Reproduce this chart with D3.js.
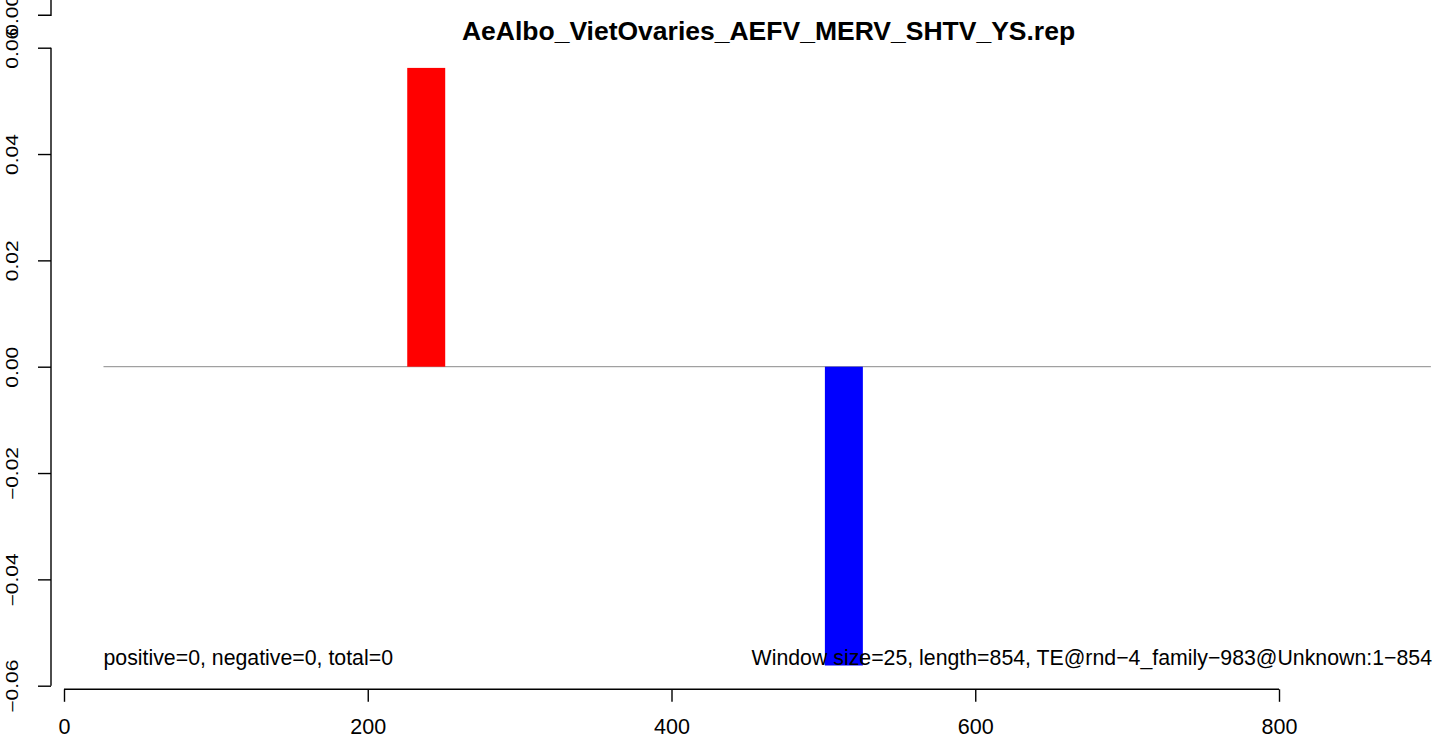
<!DOCTYPE html>
<html>
<head>
<meta charset="utf-8">
<script src="https://cdn.jsdelivr.net/npm/d3@7"></script>
<style>
html,body{margin:0;padding:0;background:#fff;}
svg{display:block;}
text{font-family:"Liberation Sans",Arial,Helvetica,sans-serif;fill:#000;}
</style>
</head>
<body>
<script>
// ---- data ----
const title = "AeAlbo_VietOvaries_AEFV_MERV_SHTV_YS.rep";
const windowSize = 25;
const barStarts = [226, 501];
const barValues = [0.0562, -0.0562];
const barColors = ["#ff0000", "#0000ff"];
const baselineRange = [26, 900];
const xTicks = [0, 200, 400, 600, 800];
const yTicks = [-0.06, -0.04, -0.02, 0.00, 0.02, 0.04, 0.06];
const leftNote = "positive=0, negative=0, total=0";
const rightNote = "Window size=25, length=854, TE@rnd\u22124_family\u2212983@Unknown:1\u2212854";
const strayTickLabel = "0.00";

// ---- layout ----
const W = 1433, H = 735;
const svg = d3.select("body").append("svg").attr("width", W).attr("height", H);

const x = d3.scaleLinear().domain([0, 800]).range([64, 1279]);
const y = d3.scaleLinear().domain([-0.06, 0.06]).range([685.7, 47.7]);
const fmtY = v => d3.format(".2f")(v).replace("-", "\u2212");
const yLabelTf = "translate(-33.5,0) scale(0.76,1) rotate(-90)";

// baseline
svg.append("line")
  .attr("x1", x(baselineRange[0])).attr("x2", x(baselineRange[1]))
  .attr("y1", y(0)).attr("y2", y(0))
  .attr("stroke", "#8a8a8a").attr("stroke-width", 1);

// bars
svg.selectAll("rect.bar").data(barStarts).enter().append("rect")
  .attr("class", "bar")
  .attr("x", d => x(d))
  .attr("width", d => x(d + windowSize) - x(d))
  .attr("y", (d, i) => y(Math.max(0, barValues[i])))
  .attr("height", (d, i) => Math.abs(y(barValues[i]) - y(0)))
  .attr("fill", (d, i) => barColors[i]);

// y axis
const yAxisX = 51;
const yAxis = d3.axisLeft(y).tickValues(yTicks).tickSize(13).tickFormat(fmtY);
const gy = svg.append("g").attr("transform", `translate(${yAxisX},0)`).call(yAxis);
gy.select(".domain").attr("d", `M0,${y(0.06)}V${y(-0.06)}`).attr("stroke-width", 1.4);
gy.selectAll(".tick line").attr("stroke-width", 1.4);
gy.selectAll(".tick text")
  .attr("x", null).attr("dy", null)
  .attr("transform", yLabelTf)
  .attr("text-anchor", "middle")
  .attr("font-size", 21)
  .attr("font-family", "Liberation Sans, Arial, Helvetica, sans-serif");

// stray axis fragment from the previous panel at the top
const stray = svg.append("g").attr("transform", `translate(${yAxisX},15.3)`);
stray.append("path").attr("d", `M0,-15.3V0H-13`)
  .attr("fill", "none").attr("stroke", "#000").attr("stroke-width", 1.4);
stray.append("text").text(strayTickLabel)
  .attr("transform", yLabelTf)
  .attr("text-anchor", "middle").attr("font-size", 21);

// x axis
const xAxis = d3.axisBottom(x).tickValues(xTicks).tickSize(12.5).tickFormat(d3.format("d"));
const gx = svg.append("g").attr("transform", "translate(0,689.3)").call(xAxis);
gx.select(".domain").attr("d", `M${x(0)},0H${x(800)}`).attr("stroke-width", 1.4);
gx.selectAll(".tick line").attr("stroke-width", 1.4);
gx.selectAll(".tick text")
  .attr("y", 45.2).attr("dy", null)
  .attr("font-size", 21.5)
  .attr("font-family", "Liberation Sans, Arial, Helvetica, sans-serif");

// title
svg.append("text").text(title)
  .attr("x", 768.5).attr("y", 40)
  .attr("text-anchor", "middle")
  .attr("font-weight", "bold").attr("font-size", 26.5);

// notes
svg.append("text").text(leftNote)
  .attr("x", x(baselineRange[0])).attr("y", 665).attr("font-size", 21.3);
svg.append("text").text(rightNote)
  .attr("x", 1432).attr("y", 665).attr("text-anchor", "end").attr("font-size", 21.3);
</script>
</body>
</html>
